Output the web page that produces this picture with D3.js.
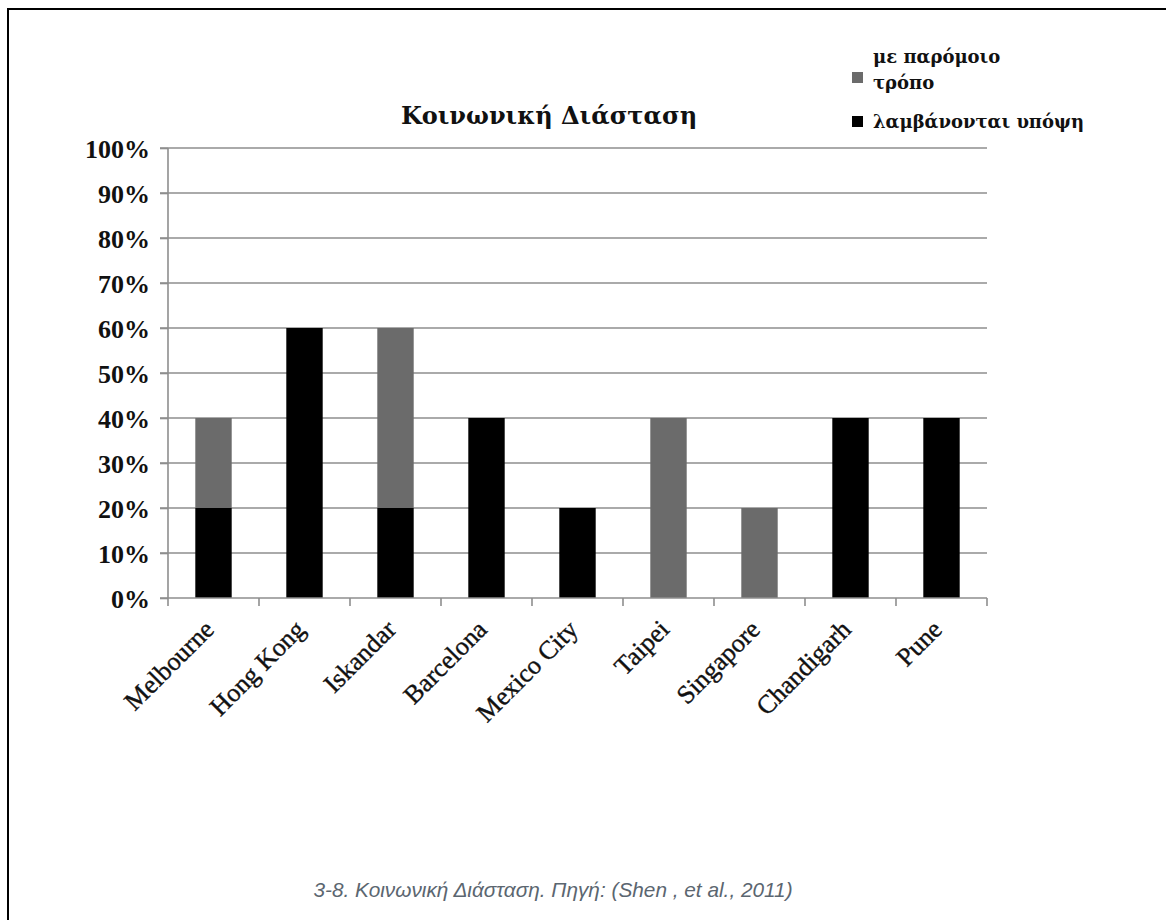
<!DOCTYPE html>
<html>
<head>
<meta charset="utf-8">
<script src="https://cdn.jsdelivr.net/npm/d3@7"></script>
<style>
  html, body { margin: 0; padding: 0; background: #fff; }
  svg { display: block; }
</style>
</head>
<body>
<svg id="chart" width="1166" height="920"></svg>
<script>
// Cities and the share (%) of each response category
const categories = ["Melbourne", "Hong Kong", "Iskandar", "Barcelona", "Mexico City", "Taipei", "Singapore", "Chandigarh", "Pune"];
const taken = [20, 60, 20, 40, 20, 0, 0, 40, 40];      // λαμβάνονται υπόψη
const similar = [20, 0, 40, 0, 0, 40, 20, 0, 0];       // με παρόμοιο τρόπο
const yTicks = [0, 10, 20, 30, 40, 50, 60, 70, 80, 90, 100];
const seriesNames = ["taken", "similar"];
const seriesColors = { taken: "#000000", similar: "#6b6b6b" };

const rows = categories.map((c, i) => ({ city: c, taken: taken[i], similar: similar[i] }));
const stacked = d3.stack().keys(seriesNames)(rows);

const svg = d3.select("#chart");
const serif = "'Liberation Serif', 'Times New Roman', serif";
const greekSerif = "'DejaVu Serif', serif";

// page frame
svg.append("line").attr("x1", 8).attr("x2", 1166).attr("y1", 9).attr("y2", 9)
  .attr("stroke", "#000").attr("stroke-width", 2);
svg.append("line").attr("x1", 8).attr("x2", 8).attr("y1", 8).attr("y2", 920)
  .attr("stroke", "#000").attr("stroke-width", 2);

const x = d3.scaleBand().domain(categories).range([168, 987]).paddingInner(0.6).paddingOuter(0.3);
const y = d3.scaleLinear().domain([0, 100]).range([598, 148]);

// horizontal gridlines
svg.append("g").selectAll("line").data(yTicks.filter(t => t > 0)).join("line")
  .attr("x1", 160).attr("x2", 987)
  .attr("y1", d => y(d)).attr("y2", d => y(d))
  .attr("stroke", "#8e8e8e").attr("stroke-width", 1.6);

// stacked bars
svg.append("g").selectAll("g").data(stacked).join("g")
  .attr("fill", d => seriesColors[d.key])
  .selectAll("rect").data(d => d).join("rect")
  .attr("x", d => x(d.data.city))
  .attr("width", x.bandwidth())
  .attr("y", d => y(d[1]))
  .attr("height", d => y(d[0]) - y(d[1]));

// y axis
const yAxis = svg.append("g").attr("transform", "translate(168,0)")
  .call(d3.axisLeft(y).tickValues(yTicks).tickFormat(d => d + "%").tickSize(8).tickPadding(10));
yAxis.selectAll("line, path").attr("stroke", "#8e8e8e").attr("stroke-width", 1.6);
yAxis.select("path").attr("d", `M0,${y(100)}V${y(0)}`);
yAxis.selectAll("text").attr("font-family", serif).attr("font-weight", "bold")
  .attr("font-size", 26).attr("fill", "#111").attr("dy", "0.35em");

// x axis with ticks on band boundaries
const bounds = categories.map(c => x(c) - x.step() * x.paddingInner() / 2);
bounds.push(987);
const xAxis = svg.append("g");
xAxis.append("line").attr("x1", 160).attr("x2", 987).attr("y1", y(0)).attr("y2", y(0))
  .attr("stroke", "#8e8e8e").attr("stroke-width", 1.6);
xAxis.selectAll("line.tick").data(bounds).join("line").attr("class", "tick")
  .attr("x1", d => d).attr("x2", d => d).attr("y1", y(0)).attr("y2", y(0) + 8)
  .attr("stroke", "#8e8e8e").attr("stroke-width", 1.6);
xAxis.selectAll("text").data(categories).join("text")
  .attr("transform", d => `translate(${x(d) + x.bandwidth() / 2 + 2},${y(0) + 33}) rotate(-45)`)
  .attr("text-anchor", "end")
  .attr("font-family", serif).attr("font-size", 26).attr("fill", "#111")
  .attr("stroke", "#111").attr("stroke-width", 0.4)
  .text(d => d);

// title
svg.append("text").attr("x", 549).attr("y", 124).attr("text-anchor", "middle")
  .attr("font-family", greekSerif).attr("font-weight", "bold").attr("font-size", 24).attr("fill", "#111")
  .text("Κοινωνική Διάσταση");

// legend
const legend = svg.append("g").attr("font-family", greekSerif).attr("font-weight", "bold")
  .attr("font-size", 18).attr("fill", "#111");
legend.append("rect").attr("x", 852).attr("y", 72).attr("width", 11).attr("height", 11).attr("fill", seriesColors.similar);
legend.append("text").attr("x", 873).attr("y", 63).text("με παρόμοιο");
legend.append("text").attr("x", 873).attr("y", 89).text("τρόπο");
legend.append("rect").attr("x", 852).attr("y", 116).attr("width", 11).attr("height", 11).attr("fill", seriesColors.taken);
legend.append("text").attr("x", 873).attr("y", 128).text("λαμβάνονται υπόψη");

// caption
svg.append("text").attr("x", 553).attr("y", 897).attr("text-anchor", "middle")
  .attr("font-family", "'Liberation Sans', Arial, sans-serif").attr("font-style", "italic")
  .attr("font-size", 20.8).attr("fill", "#5b6670")
  .text("3-8. Κοινωνική Διάσταση. Πηγή: (Shen , et al., 2011)");
</script>
</body>
</html>
